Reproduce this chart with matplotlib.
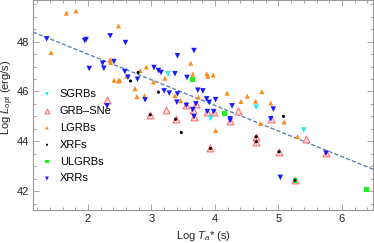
import numpy as np
import matplotlib
matplotlib.use("Agg")
import matplotlib.pyplot as plt
from matplotlib.ticker import MultipleLocator

plt.rcParams["font.family"] = ["Liberation Sans", "DejaVu Sans"]
plt.rcParams["mathtext.fontset"] = "custom"
plt.rcParams["mathtext.rm"] = "Liberation Sans"
plt.rcParams["mathtext.it"] = "Liberation Sans:italic"

# Log Ta* (s), Log Lopt (erg/s)
lgrb_x = [1.66, 1.81, 2.48, 1.42, 2.35, 2.36, 2.82, 2.92, 2.61, 2.41, 2.48, 2.50,
          2.74, 2.77, 2.89, 3.62, 3.65, 3.87, 3.89, 3.97, 3.21, 3.03, 3.37, 3.46,
          3.74, 4.19, 4.41, 4.51, 4.74, 4.64, 4.88, 4.01, 4.72, 5.09, 5.30]
lgrb_y = [49.14, 49.23, 48.63, 47.56, 47.27, 47.16, 46.84, 46.98, 46.62, 46.45, 46.42, 46.45,
          46.11, 45.79, 45.83, 47.13, 46.69, 46.70, 46.61, 46.66, 46.53, 46.38, 45.83, 45.63,
          45.77, 45.93, 45.60, 45.81, 45.99, 45.61, 45.53, 44.43, 44.71, 44.77, 44.19]

xrr_x = [1.35, 1.95, 1.97, 2.35, 2.59, 2.23, 2.41, 2.02, 2.25, 2.58, 2.63, 2.78,
         2.90, 2.30, 3.67, 3.41, 3.04, 3.11, 3.15, 3.37, 3.56, 3.20, 3.28, 3.73,
         3.81, 3.41, 3.40, 3.87, 3.91, 4.01, 4.27, 4.24, 4.92, 5.03,
         3.55, 3.70, 3.67, 3.88, 3.98, 4.24, 3.65, 4.88, 5.75]
xrr_y = [48.11, 48.04, 48.08, 48.23, 47.96, 47.13, 47.20, 46.92, 46.93, 46.80, 46.57, 46.49,
         45.66, 45.42, 47.64, 47.43, 46.96, 46.84, 46.76, 46.71, 46.56, 46.02, 45.93, 46.05,
         46.02, 45.90, 45.57, 45.70, 45.56, 45.67, 45.42, 44.90, 45.29, 42.55,
         45.44, 45.50, 44.99, 45.19, 45.19, 44.83, 45.27, 44.90, 43.52]

xrf_x = [2.79, 2.67, 3.11, 5.08, 3.47, 2.98, 3.38, 3.93, 4.65, 4.65, 5.01, 5.26]
xrf_y = [46.76, 46.42, 45.97, 45.00, 44.35, 45.06, 44.88, 43.71, 44.18, 43.98, 43.58, 42.43]

sne_x = [2.30, 3.23, 4.37, 5.44, 3.55, 3.70, 3.67, 3.88, 3.98, 4.24, 3.65, 4.88, 5.75,
         2.98, 3.38, 3.93, 4.65, 4.65, 5.01, 5.26]
sne_y = [45.66, 45.24, 45.20, 44.11, 45.44, 45.50, 44.99, 45.19, 45.19, 44.83, 45.27, 44.90, 43.52,
         45.06, 44.88, 43.71, 44.18, 43.98, 43.58, 42.43]

sgrb_x = [3.26, 4.65, 3.93, 5.40]
sgrb_y = [46.71, 45.37, 44.92, 44.45]

ulgrb_x = [3.65, 4.15, 5.26, 6.39]
ulgrb_y = [46.49, 45.12, 42.43, 42.07]

# best-fit line
fit_slope = -1.028
fit_intercept = 49.55

fig = plt.figure(figsize=(3.74, 2.43), dpi=100)
ax = fig.add_axes([33 / 374, 1 - 210 / 243, 340 / 374, 210 / 243])

xx = np.array([1.134, 6.49])
ax.plot(xx, fit_intercept + fit_slope * xx, ls=(0, (3, 1.5)), color="#5b84b8", lw=1.0, zorder=1)

ax.scatter(sne_x, sne_y, marker="^", s=24, facecolors="#ffe4e4", edgecolors="#ff7070",
           linewidths=0.8, label="GRB\u2013SNe", zorder=2)
ax.scatter(lgrb_x, lgrb_y, marker="^", s=13, color="#ff8a1c", edgecolors="none", label="LGRBs", zorder=3)
ax.scatter(ulgrb_x, ulgrb_y, marker="s", s=12, color="#22ee22", edgecolors="none", label="ULGRBs", zorder=3)
ax.scatter(sgrb_x, sgrb_y, marker="v", s=16, color="#22eeee", edgecolors="none", label="SGRBs", zorder=3)
ax.scatter(xrr_x, xrr_y, marker="v", s=16, color="#1a1aff", edgecolors="none", label="XRRs", zorder=4)
ax.scatter(xrf_x, xrf_y, marker="o", s=5, color="black", edgecolors="none", label="XRFs", zorder=5)

handles, labels = ax.get_legend_handles_labels()
order = ["SGRBs", "GRB\u2013SNe", "LGRBs", "XRFs", "ULGRBs", "XRRs"]
hmap = dict(zip(labels, handles))
leg = ax.legend([hmap[k] for k in order], order, loc="upper left",
                bbox_to_anchor=((42.5 - 33) / 340, (210 - 89) / 210),
                frameon=False, fontsize=8, borderpad=0, borderaxespad=0,
                handlelength=0.8, handletextpad=0.75, labelspacing=0.62,
                markerscale=0.7, scatterpoints=1)

ax.set_xlim(1.134, 6.49)
ax.set_ylim(41.24, 49.67)
ax.xaxis.set_major_locator(MultipleLocator(1))
ax.xaxis.set_minor_locator(MultipleLocator(0.2))
ax.yaxis.set_major_locator(MultipleLocator(2))
ax.yaxis.set_minor_locator(MultipleLocator(0.5))
ax.tick_params(which="both", direction="in", top=True, right=True, color="#999999",
               labelsize=8, labelcolor="#222222", width=0.6)
ax.tick_params(which="major", length=4, pad=3)
ax.tick_params(which="minor", length=2)
ax.tick_params(axis="x", labeltop=False)
ax.tick_params(axis="y", labelright=False)
for sp in ax.spines.values():
    sp.set_color("#999999")
    sp.set_linewidth(0.8)

ax.set_xlabel(r"Log $T_a$* (s)", fontsize=8, color="#222222")
ax.set_ylabel(r"Log $L_{\rm opt}$ (erg/s)", fontsize=8, color="#222222")
ax.xaxis.set_label_coords(0.5, -(229 - 210) / 210)
ax.yaxis.set_label_coords(-(33 - 16) / 340, (210 - 97) / 210)

fig.savefig("out.png", dpi=100)
